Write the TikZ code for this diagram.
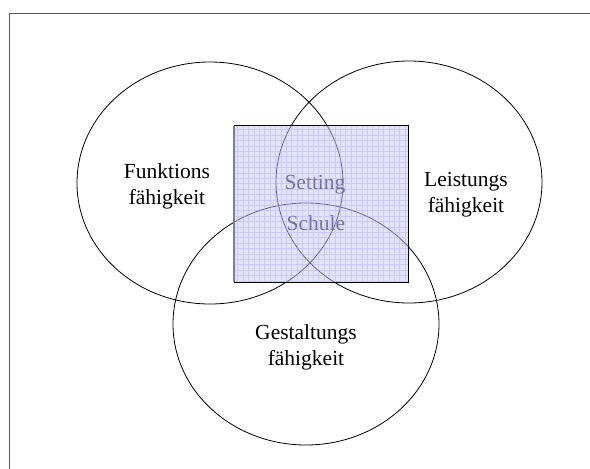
\documentclass[tikz,border=0pt]{standalone}
\usepackage{fontspec}
\setmainfont{Liberation Serif}
\usetikzlibrary{positioning}

\tikzset{
	lbl/.style={align=center, inner sep=0, font=\fontsize{21.5}{26}\selectfont},
	ring/.style={line width=0.8pt}
}

\begin{document}
\begin{tikzpicture}[x=1pt, y=-1pt]
	\useasboundingbox (0,0) rectangle (590,469);

	% open frame at top and left
	\coordinate (fbl) at (9,469);
	\coordinate (ftl) at (9,13);
	\coordinate (ftr) at (590,13);
	\draw[gray!70!black, line width=0.9pt] (fbl) -- (ftl) -- (ftr);

	% the three abilities
	\draw[ring] (210,183) ellipse [x radius=133, y radius=121];
	\draw[ring] (409,182) ellipse [x radius=133, y radius=121];
	\draw[ring] (306,324) ellipse [x radius=133, y radius=121];

	\node[lbl] (funk) at (167,186) {Funktions\\fähigkeit};
	\node[lbl] (leist) at (466,195) {Leistungs\\fähigkeit};
	\node[lbl] (gest) at (306,347) {Gestaltungs\\fähigkeit};

	\node[lbl, text=black!90] (setting) at (315,185) {Setting};
	\node[lbl, text=black!90] (schule) at (316,223) {Schule};

	% Setting Schule: translucent box with grid
	\node[fill=blue!22, fill opacity=0.5, minimum width=174pt, minimum height=156pt,
		inner sep=0] (box) at (321,204) {};
	\draw[blue!35, opacity=0.4, line width=0.4pt, step=5.4pt] (box.north west) grid (box.south east);
	\draw[line width=0.8pt] (box.south west) -- (box.south east) -- (box.north east) -- (box.north west);
	\draw[gray, line width=1.4pt] (box.north west) -- (box.south west);
\end{tikzpicture}
\end{document}
